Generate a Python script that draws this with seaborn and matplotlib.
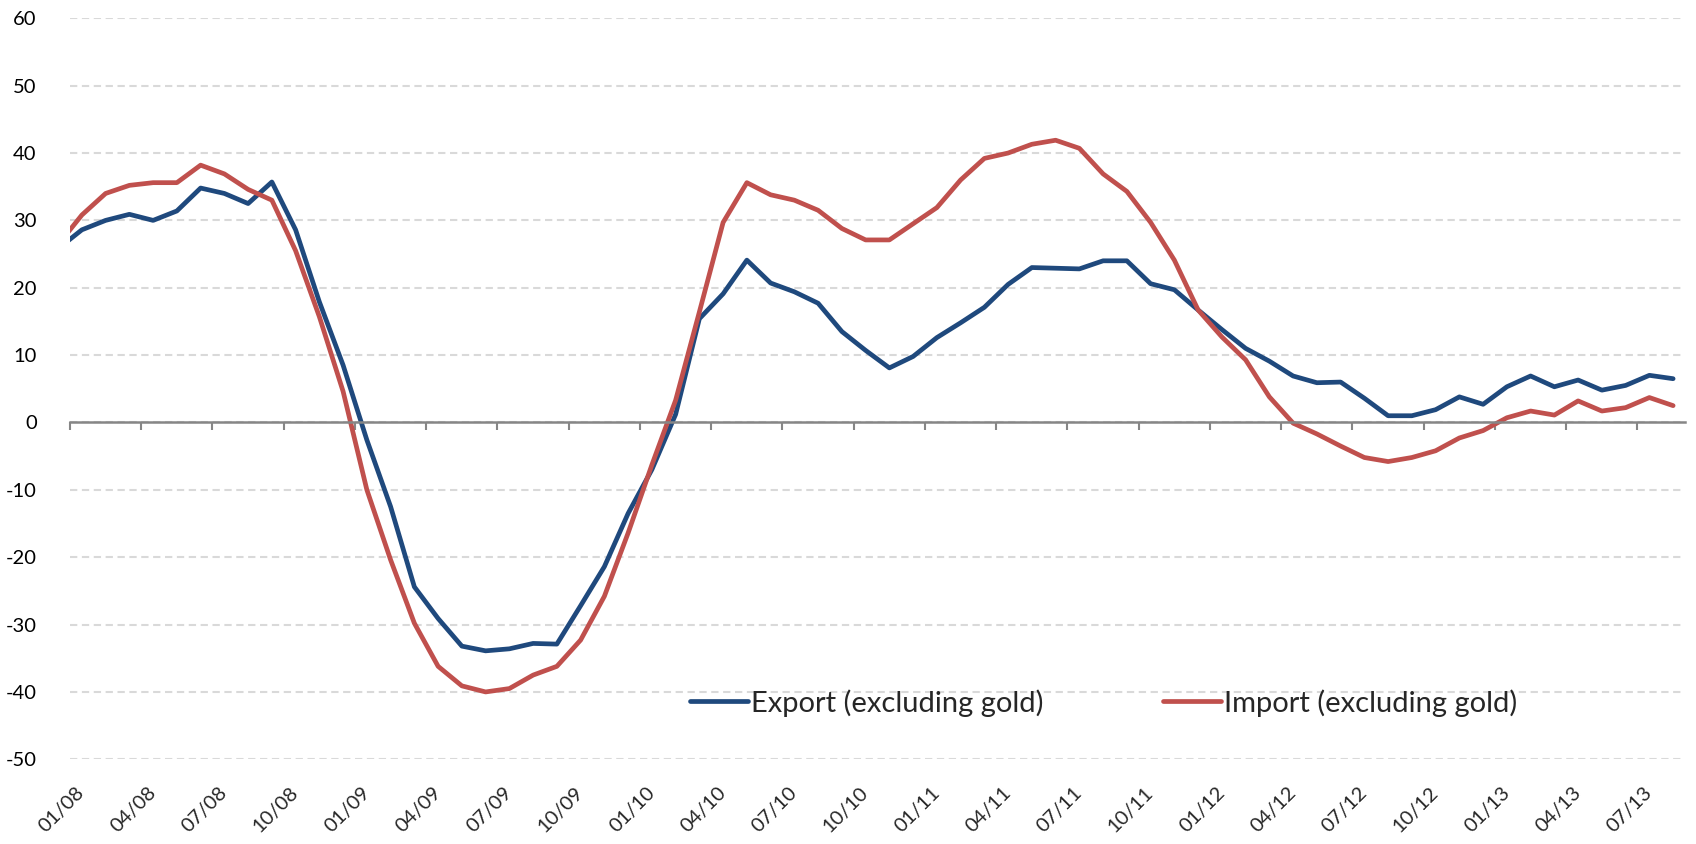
import numpy as np
import pandas as pd
import matplotlib
matplotlib.use("Agg")
import matplotlib.pyplot as plt
import seaborn as sns

# monthly y/y growth, Dec 2007 .. Aug 2013 (Dec 2007 only feeds the clipped first segment)
export_vals = [25.8, 28.6, 30.0, 30.9, 30.0, 31.4, 34.8, 34.0, 32.5, 35.7, 28.6, 17.9, 8.5,
               -2.6, -12.5, -24.4, -29.1, -33.2, -33.9, -33.6, -32.8, -32.9, -27.2, -21.4, -13.5,
               -7.0, 1.2, 15.4, 19.1, 24.1, 20.7, 19.4, 17.7, 13.5, 10.7, 8.1, 9.8,
               12.6, 14.8, 17.1, 20.5, 23.0, 22.9, 22.8, 24.0, 24.0, 20.6, 19.7, 16.7,
               13.8, 11.0, 9.1, 6.9, 5.9, 6.0, 3.6, 1.0, 1.0, 1.9, 3.8, 2.7,
               5.3, 6.9, 5.3, 6.3, 4.8, 5.5, 7.0, 6.5]
import_vals = [26.4, 30.8, 34.0, 35.2, 35.6, 35.6, 38.2, 36.9, 34.6, 33.0, 25.5, 15.7, 4.6,
               -10.0, -20.4, -29.8, -36.2, -39.1, -40.0, -39.5, -37.5, -36.2, -32.3, -25.8, -16.4,
               -6.3, 3.3, 16.4, 29.7, 35.6, 33.8, 33.0, 31.5, 28.8, 27.1, 27.1, 29.5,
               31.9, 36.0, 39.2, 40.0, 41.3, 41.9, 40.7, 36.9, 34.3, 29.7, 24.1, 16.7,
               12.7, 9.3, 3.8, -0.1, -1.7, -3.5, -5.2, -5.8, -5.2, -4.2, -2.3, -1.2,
               0.7, 1.7, 1.1, 3.2, 1.7, 2.2, 3.7, 2.5]
tick_labels = ["01/08", "04/08", "07/08", "10/08", "01/09", "04/09", "07/09", "10/09",
               "01/10", "04/10", "07/10", "10/10", "01/11", "04/11", "07/11", "10/11",
               "01/12", "04/12", "07/12", "10/12", "01/13", "04/13", "07/13"]
series_names = ["Export (excluding gold)", "Import (excluding gold)"]
colors = ["#1F497D", "#C0504D"]

# category centres: month i sits halfway between tick marks
month_pos = np.arange(len(export_vals)) - 0.5
df = pd.DataFrame({
    "month": np.concatenate([month_pos, month_pos]),
    "value": export_vals + import_vals,
    "series": [series_names[0]] * len(export_vals) + [series_names[1]] * len(import_vals),
})

sns.set_style("white")
plt.rcParams["font.family"] = ["Lato", "DejaVu Sans"]
plt.rcParams["axes.unicode_minus"] = False

fig = plt.figure(figsize=(16.96, 8.44), dpi=100)
ax = fig.add_axes([0.04127, 0.10036, 0.95224, 0.87796])

sns.lineplot(data=df, x="month", y="value", hue="series", palette=colors,
             linewidth=3.4, ax=ax, legend=True)

n_months = len(export_vals) - 1
ax.set_xlim(0, n_months)
ax.set_ylim(-50, 60)

# dashed horizontal grid
ax.set_yticks(np.arange(-50, 61, 10))
ax.yaxis.grid(True, color="#D9D9D9", linestyle=(0, (3.5, 2.2)), linewidth=1.5)
ax.xaxis.grid(False)
ax.tick_params(axis="y", length=0, pad=24, labelsize=14.5, labelcolor="#000000")

# category axis drawn through zero
for s in ["left", "right", "top"]:
    ax.spines[s].set_visible(False)
ax.spines["bottom"].set_position(("data", 0))
ax.spines["bottom"].set_color("#868686")
ax.spines["bottom"].set_linewidth(1.8)
ax.set_xticks(np.arange(0, n_months, 3))
ax.tick_params(axis="x", bottom=True, direction="out", length=5.5, width=1.5,
               color="#868686", labelbottom=False)
ax.set_xlabel("")
ax.set_ylabel("")

# rotated month labels at the bottom of the plot
sec = ax.secondary_xaxis("bottom")
sec.set_xticks(np.arange(0, n_months, 3) + 0.5)
sec.set_xticklabels(tick_labels, rotation=45, ha="right", va="center",
                    rotation_mode="anchor", fontsize=14.5)
sec.tick_params(length=0, pad=22)
sec.spines["bottom"].set_visible(False)

ax.legend(loc="center", bbox_to_anchor=(0.640, 0.0762), ncol=2, frameon=False,
          fontsize=21, handlelength=2.0, handletextpad=0.1, columnspacing=4.1,
          borderpad=0, borderaxespad=0)

fig.savefig("out.png", dpi=100)
